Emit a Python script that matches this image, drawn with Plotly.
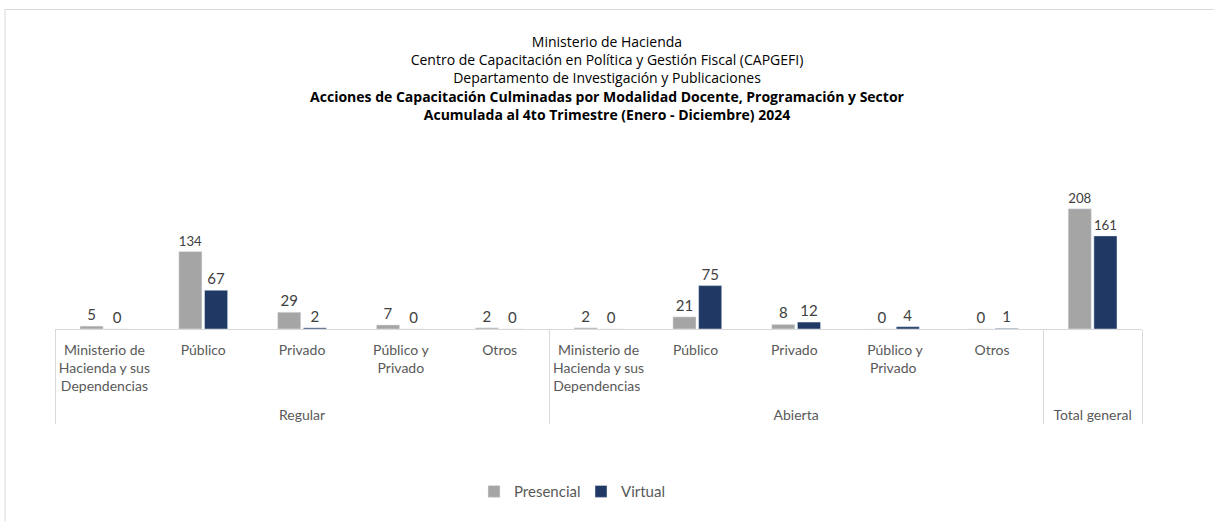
import plotly.graph_objects as go

groups = ["Regular"] * 5 + ["Abierta"] * 5 + ["Total general"]
sectors = ["Ministerio de<br>Hacienda y sus<br>Dependencias<br> ", "Público", "Privado",
           "Público y<br>Privado", "Otros",
           "Ministerio de<br>Hacienda y sus<br>Dependencias ", "Público ", "Privado ",
           "Público y<br>Privado ", "Otros ", " "]
presencial = [5, 134, 29, 7, 2, 2, 21, 8, 0, 0, 208]
virtual = [0, 67, 2, 0, 0, 0, 75, 12, 4, 1, 161]

FONT = "Lato, 'Open Sans', sans-serif"
TFONT = "'Open Sans', Lato, sans-serif"
fig = go.Figure()
fig.add_trace(go.Bar(name="Presencial", x=[groups, sectors], y=presencial,
                     marker_color="#A5A5A5", text=presencial, textposition="outside",
                     textfont=dict(size=15, color="#404040"), cliponaxis=False))
fig.add_trace(go.Bar(name="Virtual", x=[groups, sectors], y=virtual,
                     marker_color="#1F3864", text=virtual, textposition="outside",
                     textfont=dict(size=15, color="#404040"), cliponaxis=False))

title = ("Ministerio de Hacienda<br>"
         "Centro de Capacitación en Política y Gestión Fiscal (CAPGEFI)<br>"
         "Departamento de Investigación y Publicaciones<br>"
         "<b>Acciones de Capacitación Culminadas por Modalidad Docente, Programación y Sector</b><br>"
         "<b>Acumulada al 4to Trimestre (Enero - Diciembre) 2024</b>")

fig.update_layout(
    width=1214, height=521,
    margin=dict(l=55, r=72, t=150, b=185),
    paper_bgcolor="white", plot_bgcolor="white",
    font=dict(family=FONT, size=14, color="#595959"),
    title=dict(text=title, x=0.5, xanchor="center", y=1 - 47 / 521, yanchor="top",
               font=dict(family=TFONT, size=14, color="#000000")),
    barmode="group", bargap=0.48, bargroupgap=0.1,
    showlegend=True,
    legend=dict(orientation="h", x=(581 - 55) / 1087, xanchor="center",
                y=(336 - 505) / 186, yanchor="middle", itemwidth=30,
                entrywidth=62, entrywidthmode="pixels",
                font=dict(size=15, color="#595959"), traceorder="normal"),
    xaxis=dict(type="multicategory", showline=True, linecolor="#D9D9D9", linewidth=1,
               showdividers=True, dividercolor="#D9D9D9", dividerwidth=1,
               tickfont=dict(size=14, color="#595959"), tickangle=0, showgrid=False,
               ticks="", ticklabelstandoff=8),
    yaxis=dict(visible=False, range=[0, 309.5], showgrid=False, zeroline=False),
)
fig.add_shape(type="rect", xref="paper", yref="paper",
              x0=(5 - 55) / 1087, x1=1.5,
              y0=-2.0, y1=(336 - 4) / 186,
              line=dict(color="#D9D9D9", width=1), layer="below")

fig.write_html("out.html", config={"displayModeBar": False},
               post_script="document.body.style.margin='0px';")
